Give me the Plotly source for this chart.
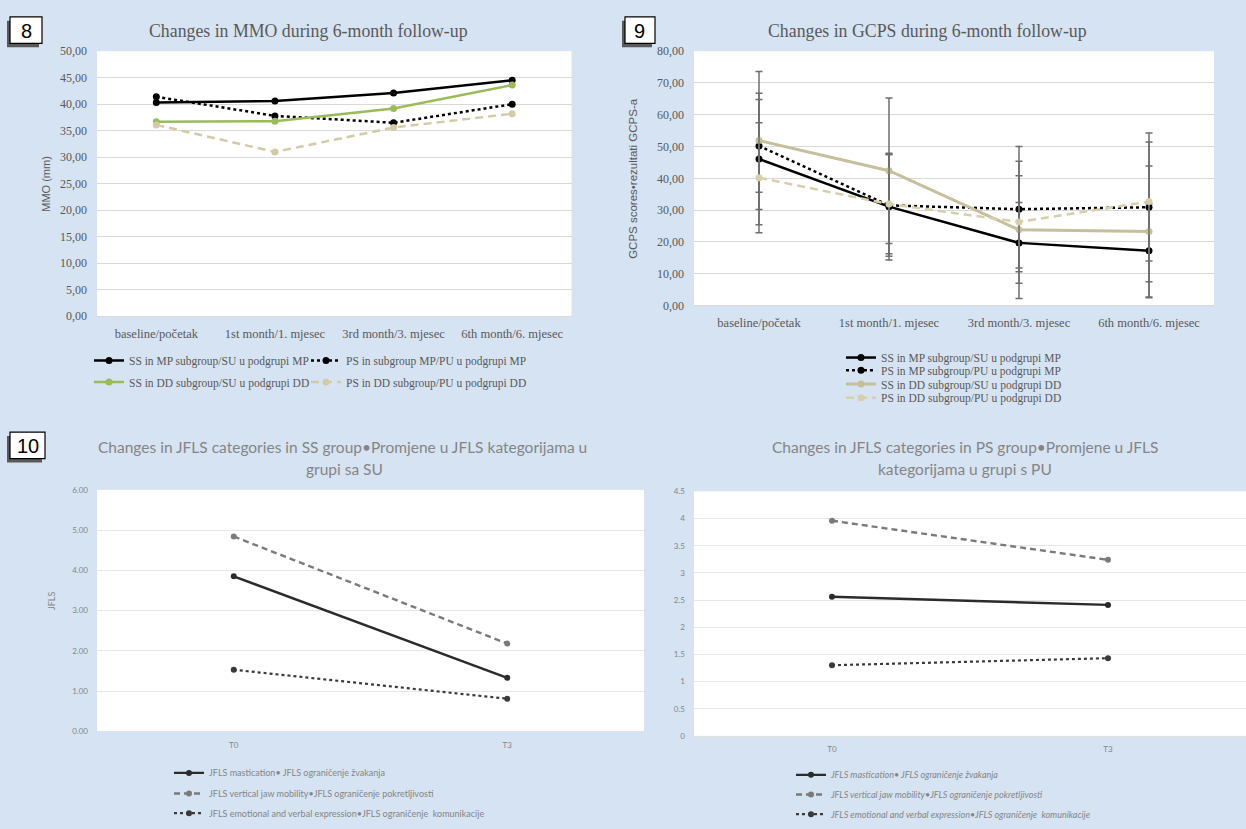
import plotly.graph_objects as go

W, H = 1246, 829
BG = "#d5e3f2"
GRID = "#d9d9d9"
TXT = "#595959"
SERIF = "Liberation Serif"
SANS = "Lato"

# ---------------- data ----------------
months = ["baseline/početak", "1st month/1. mjesec", "3rd month/3. mjesec", "6th month/6. mjesec"]

mmo_names = ["SS in MP subgroup/SU u podgrupi MP", "PS in subgroup MP/PU u podgrupi MP",
             "SS in DD subgroup/SU u podgrupi DD", "PS in DD subgroup/PU u podgrupi DD"]
mmo_ss_mp = [40.3, 40.6, 42.1, 44.5]
mmo_ps_mp = [41.4, 37.8, 36.5, 40.0]
mmo_ss_dd = [36.7, 36.8, 39.2, 43.6]
mmo_ps_dd = [36.1, 31.0, 35.6, 38.2]

gcps_names = ["SS in MP subgroup/SU u podgrupi MP", "PS in MP subgroup/PU u podgrupi MP",
              "SS in DD subgroup/SU u podgrupi DD", "PS in DD subgroup/PU u podgrupi DD"]
gcps_ss_mp = [46.1, 31.1, 19.7, 17.2]
gcps_ps_mp = [50.2, 31.5, 30.3, 30.9]
gcps_ss_dd = [51.9, 42.4, 23.8, 23.3]
gcps_ps_dd = [40.2, 31.9, 26.3, 32.7]
gcps_ss_mp_sd = [20.7, 16.8, 12.7, 14.8]
gcps_ps_mp_sd = [14.6, 16.0, 19.7, 23.4]
gcps_ss_dd_sd = [21.7, 22.9, 21.6, 20.6]
gcps_ps_dd_sd = [17.3, 15.6, 14.5, 18.7]

times = ["T0", "T3"]
jfls_names = ["JFLS mastication• JFLS ograničenje žvakanja",
              "JFLS vertical jaw mobility•JFLS ograničenje pokretljivosti",
              "JFLS emotional and verbal expression•JFLS ograničenje  komunikacije"]
ss_mast = [3.85, 1.33]
ss_vert = [4.84, 2.18]
ss_emot = [1.53, 0.81]
ps_mast = [2.56, 2.41]
ps_vert = [3.96, 3.24]
ps_emot = [1.30, 1.43]

mmo_ticks = [0, 5, 10, 15, 20, 25, 30, 35, 40, 45, 50]
gcps_ticks = [0, 10, 20, 30, 40, 50, 60, 70, 80]
ss_ticks = [0, 1, 2, 3, 4, 5, 6]

# ---------------- helpers ----------------
def px(x):
    return x / W

def py(y):
    return 1 - y / H

fig = go.Figure()

legend_defs = {}
leg_count = [0]

def add_legend(xsym, ycen, font):
    leg_count[0] += 1
    key = "legend" if leg_count[0] == 1 else "legend%d" % leg_count[0]
    legend_defs[key] = dict(x=px(xsym - 5), y=py(ycen), xanchor="left", yanchor="middle",
                            bgcolor="rgba(0,0,0,0)", font=font, itemwidth=30,
                            tracegroupgap=0, borderwidth=0)
    return key

def add_line(x, y, name, color, width, dash, xa, ya, leg, msize=7, err=None, mcolor=None):
    kw = {}
    if err is not None:
        kw["error_y"] = dict(type="data", array=err, visible=True, color="#6e6e6e",
                             thickness=1.5, width=3.5)
    fig.add_trace(go.Scatter(x=x, y=y, name=name, mode="lines+markers",
                             line=dict(color=color, width=width, dash=dash),
                             marker=dict(symbol="circle", size=msize, color=mcolor or color),
                             xaxis=xa, yaxis=ya, legend=leg, showlegend=True, **kw))

f8 = dict(family=SERIF, size=11.5, color=TXT)
f10 = dict(family=SANS, size=9, color="#858585")
f11 = dict(family=SANS, size=9, color="#858585", style="italic")

# ---------------- panel 8 ----------------
add_line(months, mmo_ss_mp, mmo_names[0], "#000000", 2.5, "solid", "x", "y", add_legend(94, 360, f8))
add_line(months, mmo_ps_mp, mmo_names[1], "#000000", 2.5, "dot", "x", "y", add_legend(311, 360, f8))
add_line(months, mmo_ss_dd, mmo_names[2], "#9bbb59", 2.5, "solid", "x", "y", add_legend(94, 382, f8))
add_line(months, mmo_ps_dd, mmo_names[3], "#d3cba7", 2.5, "8px,5px", "x", "y", add_legend(311, 382, f8))

# ---------------- panel 9 ----------------
add_line(months, gcps_ss_mp, gcps_names[0], "#000000", 2.5, "solid", "x2", "y2",
         add_legend(846, 357, f8), err=gcps_ss_mp_sd)
add_line(months, gcps_ps_mp, gcps_names[1], "#000000", 2.5, "dot", "x2", "y2",
         add_legend(846, 370, f8), err=gcps_ps_mp_sd)
add_line(months, gcps_ss_dd, gcps_names[2], "#c6bf9b", 3, "solid", "x2", "y2",
         add_legend(846, 384, f8), err=gcps_ss_dd_sd)
add_line(months, gcps_ps_dd, gcps_names[3], "#d6cfab", 2.5, "8px,5px", "x2", "y2",
         add_legend(846, 398, f8), err=gcps_ps_dd_sd)

# ---------------- panel 10 ----------------
add_line(times, ss_mast, jfls_names[0], "#2b2b2b", 2.4, "solid", "x3", "y3", add_legend(174, 780, f10), msize=6)
add_line(times, ss_vert, jfls_names[1], "#7a7a7a", 2.4, "6px,4px", "x3", "y3", add_legend(174, 801, f10), msize=6)
add_line(times, ss_emot, jfls_names[2], "#3a3a3a", 2.2, "dot", "x3", "y3", add_legend(174, 821, f10), msize=6)

# ---------------- panel 11 ----------------
add_line(times, ps_mast, jfls_names[0], "#2b2b2b", 2.4, "solid", "x4", "y4", add_legend(796, 782, f11), msize=6)
add_line(times, ps_vert, jfls_names[1], "#7a7a7a", 2.4, "6px,4px", "x4", "y4", add_legend(796, 802, f11), msize=6)
add_line(times, ps_emot, jfls_names[2], "#3a3a3a", 2.2, "dot", "x4", "y4", add_legend(796, 822, f11), msize=6)

# ---------------- axes ----------------
def fmt_comma(v):
    return ("%.2f" % v).replace(".", ",")

cat_font_serif = dict(family=SERIF, size=12.5, color=TXT)
tick_font_serif = dict(family=SERIF, size=12, color=TXT)
small_font = dict(family=SANS, size=8, color="#858585")

layout = dict(
    width=W, height=H, margin=dict(l=0, r=0, t=0, b=0),
    paper_bgcolor=BG, plot_bgcolor="#ffffff",
    xaxis=dict(domain=[px(97), px(571.5)], anchor="y", type="category", categoryarray=months,
               range=[-0.5, 3.5], showgrid=False, zeroline=False, showline=True, linecolor=GRID,
               linewidth=1, ticks="", tickfont=cat_font_serif, ticklabelstandoff=6),
    yaxis=dict(domain=[py(315), py(45)], anchor="x", range=[0, 50], tickvals=mmo_ticks,
               ticktext=[fmt_comma(v) for v in mmo_ticks], showgrid=True, gridcolor=GRID,
               gridwidth=1, zeroline=False, ticks="", tickfont=tick_font_serif, ticklabelstandoff=9),
    xaxis2=dict(domain=[px(694), px(1214)], anchor="y2", type="category", categoryarray=months,
                range=[-0.5, 3.5], showgrid=False, zeroline=False, showline=True, linecolor=GRID,
                linewidth=1, ticks="", tickfont=cat_font_serif, ticklabelstandoff=6),
    yaxis2=dict(domain=[py(304), py(45)], anchor="x2", range=[0, 80], tickvals=gcps_ticks,
                ticktext=[fmt_comma(v) for v in gcps_ticks], showgrid=True, gridcolor=GRID,
                gridwidth=1, zeroline=False, ticks="", tickfont=tick_font_serif, ticklabelstandoff=9),
    xaxis3=dict(domain=[px(97), px(644)], anchor="y3", type="category", categoryarray=times,
                range=[-0.5, 1.5], showgrid=False, zeroline=False, showline=True, linecolor="#e3e3e3",
                ticks="", tickfont=small_font, ticklabelstandoff=6),
    yaxis3=dict(domain=[py(737.7), py(491.7)], anchor="x3", range=[0, 6], tickvals=ss_ticks,
                tickformat=".2f", showgrid=True, gridcolor="#e6e6e6", zeroline=False, ticks="",
                tickfont=small_font, ticklabelstandoff=8),
    xaxis4=dict(domain=[px(694), 1.0], anchor="y4", type="category", categoryarray=times,
                range=[-0.5, 1.5], showgrid=False, zeroline=False, showline=True, linecolor="#e3e3e3",
                ticks="", tickfont=small_font, ticklabelstandoff=6),
    yaxis4=dict(domain=[py(742.3), py(493.3)], anchor="x4", range=[0, 4.5], dtick=0.5,
                showgrid=True, gridcolor="#e6e6e6", zeroline=False, ticks="",
                tickfont=small_font, ticklabelstandoff=8),
)
layout.update(legend_defs)
fig.update_layout(**layout)

# ---------------- titles & axis titles ----------------
ann = []
def add_text(x, y, text, font, angle=0):
    ann.append(dict(x=px(x), y=py(y), xref="paper", yref="paper", text=text, showarrow=False,
                    font=font, textangle=angle, xanchor="center", yanchor="middle"))

add_text(308, 24, "Changes in MMO during 6-month follow-up", dict(family=SERIF, size=17.8, color=TXT))
add_text(927, 24, "Changes in GCPS during 6-month follow-up", dict(family=SERIF, size=17.8, color=TXT))
add_text(342, 448, "Changes in JFLS categories in SS group•Promjene u JFLS kategorijama u",
         dict(family=SANS, size=15.5, color="#858585"))
add_text(344, 471, "grupi sa SU", dict(family=SANS, size=15.5, color="#858585"))
add_text(965, 448, "Changes in JFLS categories in PS group•Promjene u JFLS",
         dict(family=SANS, size=15.5, color="#858585"))
add_text(965, 471, "kategorijama u grupi s PU", dict(family=SANS, size=15.5, color="#858585"))

add_text(46, 180, "MMO (mm)", dict(family="Liberation Sans", size=11, color=TXT), -90)
add_text(633, 175, "GCPS scores•rezultati GCPS-a", dict(family="Liberation Sans", size=11.5, color=TXT), -90)
add_text(51, 605, "JFLS", dict(family=SANS, size=9, color="#858585"), -90)

# panel numbers
shapes = []
def num_box(x0, y0, x1, y1, label, fs):
    shapes.append(dict(type="rect", xref="paper", yref="paper", x0=px(x0 - 3), x1=px(x1 - 3),
                       y0=py(y1 + 4), y1=py(y0 + 4), fillcolor="#5a5a5a", line=dict(width=0)))
    shapes.append(dict(type="rect", xref="paper", yref="paper", x0=px(x0), x1=px(x1),
                       y0=py(y1), y1=py(y0), fillcolor="#ffffff", line=dict(color="#000000", width=1.2)))
    add_text((x0 + x1) / 2, (y0 + y1) / 2 + 1, label, dict(family="Liberation Sans", size=fs, color="#000000"))

num_box(10, 10, 42, 37, "8", 20)
num_box(625, 10, 655, 37, "9", 20)
num_box(10, 433, 45, 460, "10", 20)

fig.update_layout(annotations=ann, shapes=shapes)

css_js = ("var s=document.createElement('style');"
          "s.innerHTML='html,body{margin:0 !important;padding:0 !important;overflow:hidden !important;"
          "width:1246px;height:829px;} .plotly-graph-div{position:fixed !important;top:0;left:0;}';"
          "document.head.appendChild(s);")

fig.write_html("out.html", config={"displayModeBar": False}, post_script=css_js)
